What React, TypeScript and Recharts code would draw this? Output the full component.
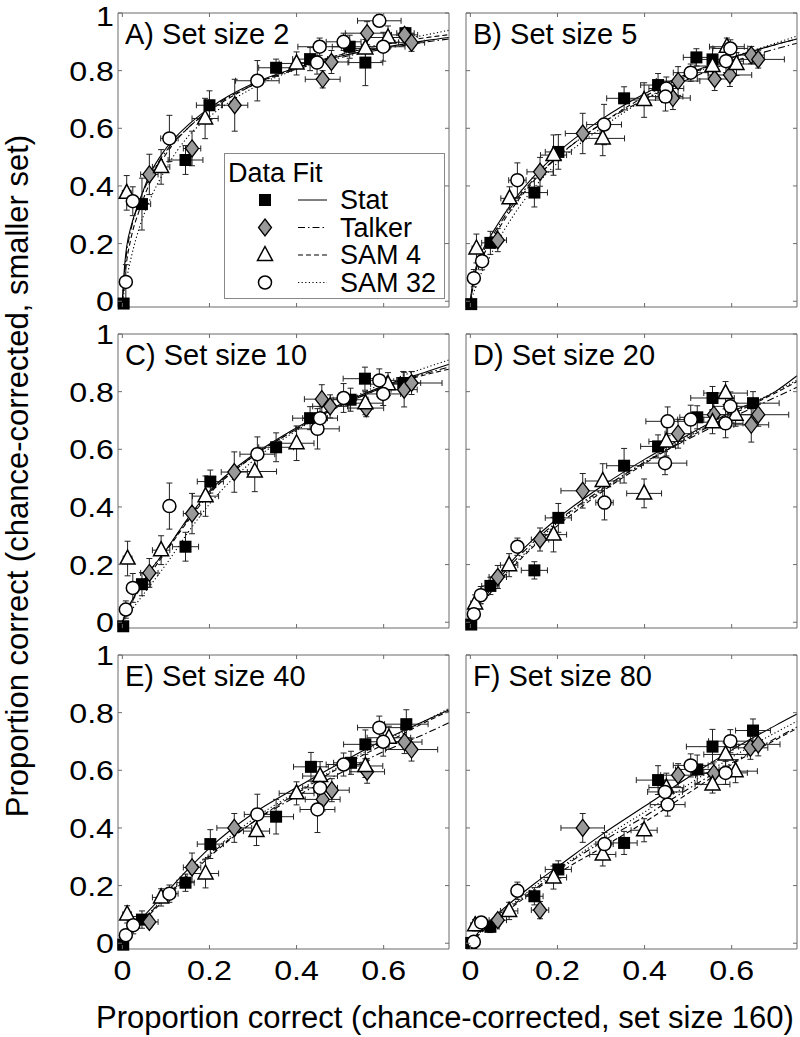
import React from 'react';
import { ComposedChart, Scatter, Line, XAxis, YAxis, ErrorBar, Legend } from 'recharts';

type Pt = [number, number, number, number]; // x, y, x-error, y-error

// ---------- tick values / labels ----------
const X_TICKS = [0, 0.2, 0.4, 0.6];
const Y_TICKS = [0, 0.2, 0.4, 0.6, 0.8, 1];
const X_DOMAIN: [number, number] = [-0.01, 0.75];
const Y_DOMAIN: [number, number] = [-0.02, 1];

const SERIES_NAMES = ['Stat', 'Talker', 'SAM 4', 'SAM 32'];
const PANEL_TITLES = ['A) Set size 2', 'B) Set size 5', 'C) Set size 10', 'D) Set size 20', 'E) Set size 40', 'F) Set size 80'];
const X_LABEL = 'Proportion correct (chance-corrected, set size 160)';
const Y_LABEL = 'Proportion correct (chance-corrected, smaller set)';

// ---------- data: panel A (set size 2) ----------
const statA: Pt[] = [[0.003, -0.008, 0.004, 0.008], [0.045, 0.337, 0.02, 0.09], [0.145, 0.49, 0.04, 0.05], [0.2, 0.68, 0.03, 0.05], [0.353, 0.81, 0.04, 0.03], [0.431, 0.84, 0.04, 0.04], [0.522, 0.883, 0.04, 0.04], [0.558, 0.828, 0.04, 0.08], [0.65, 0.93, 0.02, 0.02]];
const talkerA: Pt[] = [[0.062, 0.44, 0.02, 0.07], [0.16, 0.53, 0.02, 0.06], [0.258, 0.68, 0.03, 0.09], [0.46, 0.77, 0.04, 0.03], [0.48, 0.83, 0.04, 0.04], [0.562, 0.93, 0.05, 0.04], [0.648, 0.924, 0.03, 0.02], [0.664, 0.897, 0.03, 0.03]];
const sam4A: Pt[] = [[0.01, 0.376, 0.01, 0.06], [0.089, 0.466, 0.02, 0.06], [0.19, 0.634, 0.03, 0.07], [0.4, 0.825, 0.04, 0.04], [0.558, 0.877, 0.05, 0.06], [0.61, 0.915, 0.05, 0.04]];
const sam32A: Pt[] = [[0.008, 0.067, 0.005, 0.06], [0.024, 0.347, 0.01, 0.05], [0.108, 0.565, 0.02, 0.08], [0.31, 0.765, 0.05, 0.07], [0.453, 0.883, 0.05, 0.03], [0.447, 0.828, 0.04, 0.04], [0.508, 0.9, 0.04, 0.03], [0.59, 0.973, 0.05, 0.02], [0.599, 0.883, 0.05, 0.05]];
const fitXA = [0, 0.005, 0.01, 0.02, 0.04, 0.06, 0.1, 0.15, 0.2, 0.3, 0.4, 0.5, 0.6, 0.7, 0.75];
const fitStatA = [0, 0.12, 0.19, 0.26, 0.35, 0.43, 0.53, 0.61, 0.67, 0.755, 0.81, 0.85, 0.88, 0.905, 0.915];
const fitTalkerA = [0, 0.1, 0.17, 0.25, 0.35, 0.42, 0.52, 0.6, 0.665, 0.75, 0.805, 0.845, 0.875, 0.9, 0.91];
const fitSam4A = [0, 0.08, 0.14, 0.22, 0.32, 0.4, 0.51, 0.6, 0.66, 0.75, 0.81, 0.855, 0.89, 0.915, 0.925];
const fitSam32A = [0, 0.04, 0.08, 0.15, 0.26, 0.34, 0.46, 0.57, 0.64, 0.74, 0.805, 0.855, 0.895, 0.925, 0.94];

// ---------- panel B (set size 5) ----------
const statB: Pt[] = [[0.002, -0.01, 0.004, 0.006], [0.046, 0.2025, 0.02, 0.04], [0.147, 0.377, 0.03, 0.05], [0.202, 0.518, 0.03, 0.06], [0.353, 0.704, 0.04, 0.04], [0.431, 0.75, 0.04, 0.04], [0.519, 0.846, 0.03, 0.03], [0.556, 0.839, 0.04, 0.04]];
const talkerB: Pt[] = [[0.063, 0.212, 0.02, 0.04], [0.16, 0.449, 0.03, 0.05], [0.258, 0.582, 0.04, 0.07], [0.465, 0.705, 0.04, 0.04], [0.477, 0.764, 0.05, 0.05], [0.561, 0.771, 0.04, 0.04], [0.596, 0.785, 0.05, 0.04], [0.645, 0.854, 0.03, 0.03], [0.661, 0.839, 0.06, 0.03]];
const sam4B: Pt[] = [[0.014, 0.183, 0.01, 0.05], [0.09, 0.357, 0.02, 0.04], [0.191, 0.507, 0.03, 0.07], [0.304, 0.565, 0.05, 0.06], [0.399, 0.698, 0.04, 0.06], [0.556, 0.816, 0.04, 0.04], [0.589, 0.883, 0.04, 0.03], [0.611, 0.823, 0.05, 0.04]];
const sam32B: Pt[] = [[0.008, 0.08, 0.005, 0.03], [0.027, 0.139, 0.01, 0.03], [0.108, 0.42, 0.02, 0.06], [0.307, 0.613, 0.04, 0.07], [0.45, 0.738, 0.04, 0.04], [0.448, 0.71, 0.04, 0.05], [0.506, 0.793, 0.04, 0.03], [0.587, 0.833, 0.04, 0.04], [0.597, 0.877, 0.04, 0.03]];
const fitXB = [0, 0.005, 0.01, 0.02, 0.04, 0.06, 0.1, 0.15, 0.2, 0.3, 0.4, 0.5, 0.6, 0.7, 0.75];
const fitStatB = [0, 0.06, 0.1, 0.15, 0.21, 0.26, 0.35, 0.44, 0.515, 0.63, 0.72, 0.79, 0.845, 0.89, 0.91];
const fitTalkerB = [0, 0.05, 0.09, 0.14, 0.2, 0.25, 0.34, 0.43, 0.5, 0.615, 0.7, 0.77, 0.83, 0.875, 0.895];
const fitSam4B = [0, 0.04, 0.07, 0.12, 0.19, 0.24, 0.33, 0.425, 0.5, 0.615, 0.71, 0.785, 0.845, 0.89, 0.91];
const fitSam32B = [0, 0.02, 0.04, 0.08, 0.14, 0.2, 0.3, 0.4, 0.48, 0.6, 0.7, 0.78, 0.845, 0.895, 0.92];

// ---------- panel C (set size 10) ----------
const statC: Pt[] = [[0.002, -0.014, 0.004, 0.005], [0.045, 0.132, 0.02, 0.04], [0.145, 0.262, 0.03, 0.05], [0.202, 0.488, 0.03, 0.04], [0.353, 0.607, 0.04, 0.05], [0.431, 0.708, 0.04, 0.04], [0.524, 0.772, 0.04, 0.04], [0.557, 0.845, 0.05, 0.04], [0.645, 0.83, 0.04, 0.04]];
const talkerC: Pt[] = [[0.062, 0.171, 0.02, 0.05], [0.16, 0.377, 0.02, 0.07], [0.257, 0.521, 0.03, 0.07], [0.458, 0.774, 0.04, 0.05], [0.477, 0.749, 0.04, 0.04], [0.56, 0.743, 0.04, 0.03], [0.647, 0.807, 0.03, 0.06], [0.664, 0.83, 0.07, 0.04]];
const sam4C: Pt[] = [[0.012, 0.221, 0.01, 0.06], [0.089, 0.25, 0.02, 0.05], [0.191, 0.4375, 0.03, 0.07], [0.304, 0.523, 0.05, 0.07], [0.4, 0.621, 0.04, 0.06], [0.558, 0.76, 0.04, 0.04], [0.61, 0.826, 0.04, 0.04]];
const sam32C: Pt[] = [[0.008, 0.044, 0.005, 0.03], [0.024, 0.119, 0.01, 0.05], [0.108, 0.403, 0.01, 0.08], [0.31, 0.583, 0.04, 0.06], [0.448, 0.671, 0.05, 0.07], [0.454, 0.708, 0.04, 0.04], [0.508, 0.778, 0.03, 0.05], [0.59, 0.839, 0.04, 0.04], [0.599, 0.792, 0.04, 0.04]];
const fitXC = [0, 0.005, 0.01, 0.02, 0.04, 0.06, 0.1, 0.15, 0.2, 0.3, 0.4, 0.5, 0.6, 0.7, 0.75];
const fitStatC = [0, 0.02, 0.04, 0.07, 0.12, 0.17, 0.25, 0.36, 0.455, 0.58, 0.675, 0.755, 0.82, 0.87, 0.895];
const fitTalkerC = [0, 0.02, 0.04, 0.07, 0.12, 0.17, 0.25, 0.355, 0.45, 0.575, 0.67, 0.75, 0.815, 0.865, 0.885];
const fitSam4C = [0, 0.018, 0.035, 0.065, 0.115, 0.16, 0.245, 0.35, 0.445, 0.575, 0.67, 0.75, 0.815, 0.86, 0.878];
const fitSam32C = [0, 0.01, 0.02, 0.04, 0.08, 0.12, 0.2, 0.31, 0.41, 0.56, 0.665, 0.755, 0.83, 0.885, 0.91];

// ---------- panel D (set size 20) ----------
const statD: Pt[] = [[0.002, -0.008, 0.004, 0.008], [0.046, 0.126, 0.02, 0.03], [0.147, 0.18, 0.03, 0.03], [0.202, 0.362, 0.03, 0.05], [0.353, 0.543, 0.04, 0.06], [0.431, 0.61, 0.04, 0.04], [0.521, 0.711, 0.04, 0.04], [0.556, 0.778, 0.05, 0.04], [0.649, 0.76, 0.06, 0.04]];
const talkerD: Pt[] = [[0.063, 0.157, 0.02, 0.04], [0.16, 0.287, 0.02, 0.04], [0.258, 0.456, 0.05, 0.06], [0.477, 0.654, 0.03, 0.05], [0.559, 0.72, 0.04, 0.04], [0.645, 0.685, 0.04, 0.06], [0.661, 0.72, 0.07, 0.04]];
const sam4D: Pt[] = [[0.011, 0.065, 0.01, 0.03], [0.089, 0.198, 0.02, 0.04], [0.191, 0.304, 0.03, 0.06], [0.304, 0.49, 0.04, 0.06], [0.399, 0.447, 0.04, 0.05], [0.45, 0.627, 0.04, 0.05], [0.556, 0.694, 0.04, 0.04], [0.586, 0.795, 0.05, 0.04], [0.609, 0.72, 0.05, 0.04]];
const sam32D: Pt[] = [[0.008, 0.028, 0.005, 0.02], [0.024, 0.094, 0.01, 0.03], [0.108, 0.262, 0.01, 0.03], [0.308, 0.415, 0.02, 0.06], [0.447, 0.552, 0.05, 0.04], [0.453, 0.697, 0.05, 0.05], [0.506, 0.703, 0.03, 0.05], [0.586, 0.69, 0.04, 0.05], [0.597, 0.749, 0.04, 0.05]];
const fitXD = [0, 0.005, 0.01, 0.02, 0.04, 0.06, 0.1, 0.15, 0.2, 0.3, 0.4, 0.5, 0.6, 0.7, 0.75];
const fitStatD = [0, 0.022, 0.04, 0.065, 0.11, 0.15, 0.22, 0.295, 0.36, 0.47, 0.565, 0.65, 0.73, 0.8, 0.855];
const fitTalkerD = [0, 0.02, 0.035, 0.06, 0.1, 0.14, 0.21, 0.285, 0.35, 0.46, 0.555, 0.635, 0.71, 0.78, 0.815];
const fitSam4D = [0, 0.016, 0.03, 0.055, 0.09, 0.13, 0.195, 0.27, 0.335, 0.45, 0.55, 0.64, 0.72, 0.795, 0.835];
const fitSam32D = [0, 0.016, 0.03, 0.05, 0.09, 0.13, 0.2, 0.275, 0.345, 0.455, 0.555, 0.645, 0.725, 0.8, 0.84];

// ---------- panel E (set size 40) ----------
const statE: Pt[] = [[0.002, -0.005, 0.004, 0.008], [0.045, 0.082, 0.02, 0.03], [0.145, 0.21, 0.02, 0.03], [0.202, 0.344, 0.03, 0.05], [0.353, 0.439, 0.04, 0.06], [0.433, 0.612, 0.04, 0.05], [0.525, 0.626, 0.04, 0.04], [0.558, 0.69, 0.05, 0.05], [0.652, 0.76, 0.05, 0.05]];
const talkerE: Pt[] = [[0.062, 0.074, 0.02, 0.02], [0.16, 0.263, 0.02, 0.05], [0.257, 0.4, 0.04, 0.05], [0.46, 0.499, 0.04, 0.04], [0.481, 0.531, 0.04, 0.04], [0.562, 0.595, 0.04, 0.04], [0.648, 0.698, 0.04, 0.04], [0.664, 0.672, 0.06, 0.04]];
const sam4E: Pt[] = [[0.011, 0.1, 0.01, 0.03], [0.089, 0.159, 0.02, 0.03], [0.191, 0.242, 0.03, 0.05], [0.308, 0.389, 0.03, 0.05], [0.4, 0.52, 0.04, 0.04], [0.454, 0.58, 0.04, 0.05], [0.558, 0.615, 0.04, 0.04], [0.612, 0.713, 0.05, 0.04]];
const sam32E: Pt[] = [[0.008, 0.028, 0.005, 0.02], [0.025, 0.0625, 0.01, 0.03], [0.108, 0.172, 0.02, 0.03], [0.31, 0.447, 0.03, 0.07], [0.448, 0.464, 0.04, 0.08], [0.454, 0.539, 0.04, 0.04], [0.508, 0.62, 0.04, 0.04], [0.59, 0.748, 0.05, 0.04], [0.599, 0.699, 0.05, 0.05]];
const fitXE = [0, 0.02, 0.05, 0.1, 0.15, 0.2, 0.3, 0.4, 0.5, 0.6, 0.7, 0.75];
const fitStatE = [0, 0.04, 0.095, 0.175, 0.255, 0.33, 0.45, 0.54, 0.625, 0.705, 0.775, 0.81];
const fitTalkerE = [0, 0.035, 0.085, 0.16, 0.235, 0.305, 0.42, 0.51, 0.59, 0.665, 0.73, 0.765];
const fitSam4E = [0, 0.03, 0.08, 0.155, 0.23, 0.3, 0.42, 0.52, 0.61, 0.69, 0.77, 0.805];
const fitSam32E = [0, 0.035, 0.085, 0.165, 0.24, 0.31, 0.43, 0.525, 0.615, 0.7, 0.775, 0.815];

// ---------- panel F (set size 80) ----------
const statF: Pt[] = [[0.002, 0.001, 0.004, 0.008], [0.046, 0.057, 0.02, 0.02], [0.147, 0.163, 0.02, 0.03], [0.202, 0.256, 0.03, 0.03], [0.353, 0.348, 0.03, 0.04], [0.431, 0.566, 0.05, 0.05], [0.521, 0.603, 0.05, 0.05], [0.556, 0.682, 0.06, 0.06], [0.649, 0.738, 0.04, 0.04]];
const talkerF: Pt[] = [[0.063, 0.08, 0.02, 0.02], [0.16, 0.115, 0.02, 0.03], [0.258, 0.4, 0.05, 0.05], [0.477, 0.583, 0.04, 0.04], [0.559, 0.589, 0.04, 0.04], [0.643, 0.678, 0.04, 0.04], [0.661, 0.69, 0.05, 0.04]];
const sam4F: Pt[] = [[0.011, 0.0625, 0.01, 0.02], [0.089, 0.112, 0.02, 0.03], [0.191, 0.228, 0.03, 0.04], [0.304, 0.308, 0.03, 0.04], [0.399, 0.392, 0.03, 0.04], [0.45, 0.54, 0.04, 0.05], [0.556, 0.551, 0.04, 0.03], [0.586, 0.655, 0.05, 0.04], [0.609, 0.597, 0.05, 0.04]];
const sam32F: Pt[] = [[0.008, 0.005, 0.005, 0.01], [0.025, 0.072, 0.01, 0.02], [0.108, 0.182, 0.01, 0.03], [0.308, 0.344, 0.02, 0.04], [0.453, 0.481, 0.04, 0.04], [0.447, 0.525, 0.04, 0.04], [0.506, 0.617, 0.04, 0.04], [0.586, 0.591, 0.05, 0.04], [0.597, 0.701, 0.05, 0.04]];
const fitXF = [0, 0.02, 0.05, 0.1, 0.15, 0.2, 0.3, 0.4, 0.5, 0.6, 0.7, 0.75];
const fitStatF = [0, 0.04, 0.085, 0.15, 0.21, 0.265, 0.375, 0.475, 0.575, 0.67, 0.755, 0.795];
const fitTalkerF = [0, 0.035, 0.075, 0.135, 0.19, 0.25, 0.35, 0.44, 0.535, 0.625, 0.71, 0.75];
const fitSam4F = [0, 0.03, 0.07, 0.13, 0.185, 0.24, 0.33, 0.42, 0.52, 0.62, 0.705, 0.745];
const fitSam32F = [0, 0.035, 0.08, 0.14, 0.2, 0.255, 0.36, 0.455, 0.55, 0.645, 0.73, 0.77];

// ---------- styling / layout ----------
const FONT = '"Liberation Sans", Arial, sans-serif';
const FRAME = '#6b6b6b';
const TICK_LEN = 4;
const TICK_FS = 28;
const TICK_STRETCH = 1.15;
const TITLE_FS = 29;
const LEG_FS = 27;
const LABEL_FS = 31;
const COL_LEFT = [118, 466];
const ROW_TOP = [13, 334, 655];
const PLOT_W = 331;
const PLOT_H = 294;
const AX = 1; // thickness reserved by each (invisible) axis band

type Shape = 'square' | 'diamond' | 'triangle' | 'circle';
const SHAPES: Shape[] = ['square', 'diamond', 'triangle', 'circle'];
const DASHES: (string | undefined)[] = [undefined, '7 3 1.5 3', '5 3', '1.2 2.4'];

function marker(shape: Shape, cx: number, cy: number) {
  if (shape === 'square') return <rect x={cx - 6} y={cy - 6} width={12} height={12} fill="#000" />;
  if (shape === 'diamond')
    return <polygon points={`${cx},${cy - 8.5} ${cx + 6.5},${cy} ${cx},${cy + 8.5} ${cx - 6.5},${cy}`} fill="#999" stroke="#000" strokeWidth={1.3} />;
  if (shape === 'triangle')
    return <polygon points={`${cx},${cy - 8.5} ${cx + 7.5},${cy + 5.5} ${cx - 7.5},${cy + 5.5}`} fill="#fff" stroke="#000" strokeWidth={1.5} />;
  return <circle cx={cx} cy={cy} r={6.5} fill="#fff" stroke="#000" strokeWidth={1.5} />;
}

const fmt = (v: number) => String(v);

const xTick = (side: 'top' | 'bottom', label: boolean) => (props: any) => {
  const { x, y, payload } = props;
  const dir = side === 'bottom' ? -1 : 1;
  return (
    <g>
      <line x1={x} y1={y} x2={x} y2={y + dir * TICK_LEN} stroke={FRAME} strokeWidth={1} />
      {label && (
        <text transform={`translate(${x},${y + 31}) scale(${TICK_STRETCH},1)`} x={0} y={0} textAnchor="middle"
          fontSize={TICK_FS} fontFamily={FONT} fill="#000">
          {fmt(payload.value)}
        </text>
      )}
    </g>
  );
};

// chartTop: page offset of the chart, used to keep the top label inside the page
const yTick = (side: 'left' | 'right', label: boolean, chartTop: number) => (props: any) => {
  const { x, y, payload } = props;
  const dir = side === 'left' ? 1 : -1;
  const minBase = TICK_FS * 0.905 + 0.5 - chartTop;
  const base = Math.max(y + 10, minBase);
  return (
    <g>
      <line x1={x} y1={y} x2={x + dir * TICK_LEN} y2={y} stroke={FRAME} strokeWidth={1} />
      {label && (
        <text transform={`translate(${x - 4},${base}) scale(${TICK_STRETCH},1)`} x={0} y={0} textAnchor="end"
          fontSize={TICK_FS} fontFamily={FONT} fill="#000">
          {fmt(payload.value)}
        </text>
      )}
    </g>
  );
};

function LegendBox() {
  return (
    <svg width={222} height={147} style={{ display: 'block' }}>
      <rect x={0.5} y={0.5} width={220} height={145} fill="#fff" stroke="#888" strokeWidth={1} />
      <text x={4} y={29} fontSize={LEG_FS} fontFamily={FONT}>Data Fit</text>
      {SERIES_NAMES.map((name, i) => {
        const cy = 47 + i * 27.5;
        return (
          <g key={name}>
            {marker(SHAPES[i], 41, cy)}
            <line x1={74} x2={103} y1={cy} y2={cy} stroke="#000" strokeWidth={1} strokeDasharray={DASHES[i]} />
            <text x={116} y={cy + 9} fontSize={LEG_FS} fontFamily={FONT}>{name}</text>
          </g>
        );
      })}
    </svg>
  );
}

interface PanelDef {
  pts: Pt[][];
  fitX: number[];
  fits: number[][];
}

const PANELS: PanelDef[] = [
  { pts: [statA, talkerA, sam4A, sam32A], fitX: fitXA, fits: [fitStatA, fitTalkerA, fitSam4A, fitSam32A] },
  { pts: [statB, talkerB, sam4B, sam32B], fitX: fitXB, fits: [fitStatB, fitTalkerB, fitSam4B, fitSam32B] },
  { pts: [statC, talkerC, sam4C, sam32C], fitX: fitXC, fits: [fitStatC, fitTalkerC, fitSam4C, fitSam32C] },
  { pts: [statD, talkerD, sam4D, sam32D], fitX: fitXD, fits: [fitStatD, fitTalkerD, fitSam4D, fitSam32D] },
  { pts: [statE, talkerE, sam4E, sam32E], fitX: fitXE, fits: [fitStatE, fitTalkerE, fitSam4E, fitSam32E] },
  { pts: [statF, talkerF, sam4F, sam32F], fitX: fitXF, fits: [fitStatF, fitTalkerF, fitSam4F, fitSam32F] },
];

function Panel({ idx }: { idx: number }) {
  const p = PANELS[idx];
  const col = idx % 2;
  const row = Math.floor(idx / 2);
  const isLeft = col === 0;
  const isBottom = row === 2;
  const mL = isLeft ? 80 : 12;
  const mT = 20;
  const mR = 3;
  const mB = isBottom ? 50 : 14;
  const W = mL + PLOT_W + mR;
  const H = mT + PLOT_H + mB;
  const chartLeft = COL_LEFT[col] - mL;
  const chartTop = ROW_TOP[row] - mT;

  return (
    <div style={{ position: 'absolute', left: chartLeft, top: chartTop }}>
      <ComposedChart width={W} height={H} margin={{ top: mT - AX, right: mR - AX, bottom: mB - AX, left: mL - AX }}>
        <XAxis xAxisId="b" orientation="bottom" type="number" dataKey="x" domain={X_DOMAIN} ticks={X_TICKS} interval={0}
          height={AX} tickSize={0} tickMargin={0} tickLine={false} axisLine={{ stroke: FRAME }} tick={xTick('bottom', isBottom)} />
        <XAxis xAxisId="t" orientation="top" type="number" dataKey="x" domain={X_DOMAIN} allowDataOverflow ticks={X_TICKS} interval={0}
          height={AX} tickSize={0} tickMargin={0} tickLine={false} axisLine={{ stroke: FRAME }} tick={xTick('top', false)} />
        <YAxis yAxisId="l" orientation="left" type="number" dataKey="y" domain={Y_DOMAIN} ticks={Y_TICKS} interval={0}
          width={AX} tickSize={0} tickMargin={0} tickLine={false} axisLine={{ stroke: FRAME }} tick={yTick('left', isLeft, chartTop)} />
        <YAxis yAxisId="r" orientation="right" type="number" dataKey="y" domain={Y_DOMAIN} allowDataOverflow ticks={Y_TICKS} interval={0}
          width={AX} tickSize={0} tickMargin={0} tickLine={false} axisLine={{ stroke: FRAME }} tick={yTick('right', false, chartTop)} />
        {p.fits.map((f, i) => (
          <Line key={'fit' + i} xAxisId="b" yAxisId="l" name={SERIES_NAMES[i] + ' fit'}
            data={p.fitX.map((x, j) => ({ x, y: f[j] }))} dataKey="y" type="monotone"
            stroke="#000" strokeWidth={1.1} strokeDasharray={DASHES[i]} dot={false} activeDot={false}
            isAnimationActive={false} legendType="none" />
        ))}
        {p.pts.map((pts, i) => (
          <Scatter key={'pts' + i} xAxisId="b" yAxisId="l" name={SERIES_NAMES[i]}
            data={pts.map(([x, y, ex, ey]) => ({ x, y, ex, ey }))}
            shape={(sp: any) => marker(SHAPES[i], sp.cx, sp.cy)} isAnimationActive={false}>
            <ErrorBar dataKey="ex" direction="x" width={3} stroke="#222" strokeWidth={1} isAnimationActive={false} />
            <ErrorBar dataKey="ey" direction="y" width={3} stroke="#222" strokeWidth={1} isAnimationActive={false} />
          </Scatter>
        ))}
        {idx === 0 && (
          <Legend layout="horizontal" verticalAlign="middle" align="center"
            wrapperStyle={{ position: 'absolute', left: 224 - chartLeft, top: 153 - chartTop, width: 222, height: 147 }}
            content={() => <LegendBox />} />
        )}
      </ComposedChart>
    </div>
  );
}

export default function App() {
  return (
    <div style={{ position: 'absolute', left: 0, top: 0, width: 800, height: 1037, background: '#fff', fontFamily: FONT, overflow: 'hidden' }}>
      {PANELS.map((_, i) => <Panel key={i} idx={i} />)}
      {PANEL_TITLES.map((t, i) => (
        <div key={t} style={{ position: 'absolute', left: COL_LEFT[i % 2] + 7, top: ROW_TOP[Math.floor(i / 2)] + 7, fontSize: TITLE_FS, lineHeight: `${TITLE_FS}px`, whiteSpace: 'nowrap', color: '#000' }}>
          {t}
        </div>
      ))}
      <div style={{ position: 'absolute', left: 445, top: 1002, transform: 'translateX(-50%)', fontSize: LABEL_FS, lineHeight: `${LABEL_FS}px`, whiteSpace: 'nowrap' }}>
        {X_LABEL}
      </div>
      <div style={{ position: 'absolute', left: 17, top: 476, transform: 'translate(-50%, -50%) rotate(-90deg)', fontSize: LABEL_FS, lineHeight: `${LABEL_FS}px`, whiteSpace: 'nowrap' }}>
        {Y_LABEL}
      </div>
    </div>
  );
}
